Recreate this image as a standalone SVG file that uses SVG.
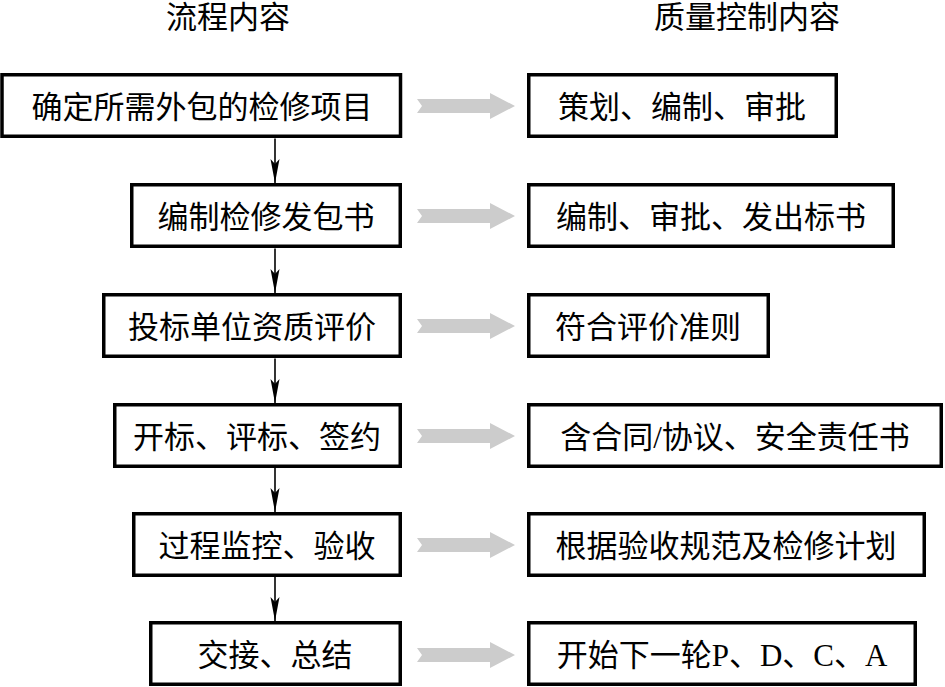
<svg xmlns="http://www.w3.org/2000/svg" xmlns:xlink="http://www.w3.org/1999/xlink" width="945" height="687" viewBox="0 0 945 687">
<style>
  .box { fill: #ffffff; stroke: #000000; stroke-width: 3.5; }
  .t { font-family: "Liberation Serif", "Noto Sans CJK SC", serif; font-size: 31px; fill: #000000; text-anchor: middle; }
  .flow { stroke: #000000; stroke-width: 1.6; fill: none; marker-end: url(#ah); }
  .ga { fill: #cccccc; }
</style>
<defs>
  <marker id="ah" viewBox="0 0 24 10" refX="24" refY="5" markerWidth="24" markerHeight="10" markerUnits="userSpaceOnUse" orient="auto">
    <path d="M0,0.5 L24,5 L0,9.5 L5,5 Z" fill="#000000"/>
  </marker>
  <path id="garrow" class="ga" d="M0,-7 L73,-7 L73,-13 L98,0 L73,13 L73,7 L0,7 L5,0 Z"/>
</defs>
<rect width="945" height="687" fill="#ffffff"/>

<g id="titles">
  <text class="t" x="228" y="28">流程内容</text>
  <text class="t" x="747" y="28">质量控制内容</text>
</g>

<g id="connectors">
  <line class="flow" x1="275" y1="138.5" x2="275" y2="183"/>
  <line class="flow" x1="275" y1="248.5" x2="275" y2="293"/>
  <line class="flow" x1="275" y1="358.5" x2="275" y2="403"/>
  <line class="flow" x1="275" y1="468" x2="275" y2="512"/>
  <line class="flow" x1="275" y1="577" x2="275" y2="621"/>
  <use xlink:href="#garrow" x="417" y="106"/>
  <use xlink:href="#garrow" x="417" y="216"/>
  <use xlink:href="#garrow" x="417" y="326"/>
  <use xlink:href="#garrow" x="417" y="436"/>
  <use xlink:href="#garrow" x="417" y="545"/>
  <use xlink:href="#garrow" x="417" y="655"/>
</g>

<g id="p1">
  <rect class="box" x="2" y="74.75" width="398.5" height="61.5"/>
  <text class="t" x="202" y="117.5">确定所需外包的检修项目</text>
</g>
<g id="p2">
  <rect class="box" x="131.75" y="184.75" width="268.5" height="61.5"/>
  <text class="t" x="266" y="227.5">编制检修发包书</text>
</g>
<g id="p3">
  <rect class="box" x="103.75" y="294.75" width="296.5" height="61.5"/>
  <text class="t" x="252" y="337.5">投标单位资质评价</text>
</g>
<g id="p4">
  <rect class="box" x="114.75" y="404.75" width="285.5" height="61.5"/>
  <text class="t" x="257" y="447.5">开标、评标、签约</text>
</g>
<g id="p5">
  <rect class="box" x="133.75" y="513.75" width="266.5" height="61.5"/>
  <text class="t" x="267" y="556.5">过程监控、验收</text>
</g>
<g id="p6">
  <rect class="box" x="150.75" y="622.75" width="249.5" height="61.5"/>
  <text class="t" x="275" y="665.5">交接、总结</text>
</g>

<g id="q1">
  <rect class="box" x="528.75" y="74.75" width="307.5" height="61.5"/>
  <text class="t" x="682" y="117.5">策划、编制、审批</text>
</g>
<g id="q2">
  <rect class="box" x="528.75" y="184.75" width="364.5" height="61.5"/>
  <text class="t" x="711" y="227.5">编制、审批、发出标书</text>
</g>
<g id="q3">
  <rect class="box" x="528.75" y="294.75" width="239.5" height="61.5"/>
  <text class="t" x="648" y="337.5">符合评价准则</text>
</g>
<g id="q4">
  <rect class="box" x="528.75" y="404.75" width="412.5" height="61.5"/>
  <text class="t" x="735" y="447.5">含合同/协议、安全责任书</text>
</g>
<g id="q5">
  <rect class="box" x="528.75" y="513.75" width="395.5" height="61.5"/>
  <text class="t" x="726" y="556.5">根据验收规范及检修计划</text>
</g>
<g id="q6">
  <rect class="box" x="528.75" y="622.75" width="386.5" height="61.5"/>
  <text class="t" x="722" y="665.5">开始下一轮P、D、C、A</text>
</g>
</svg>
